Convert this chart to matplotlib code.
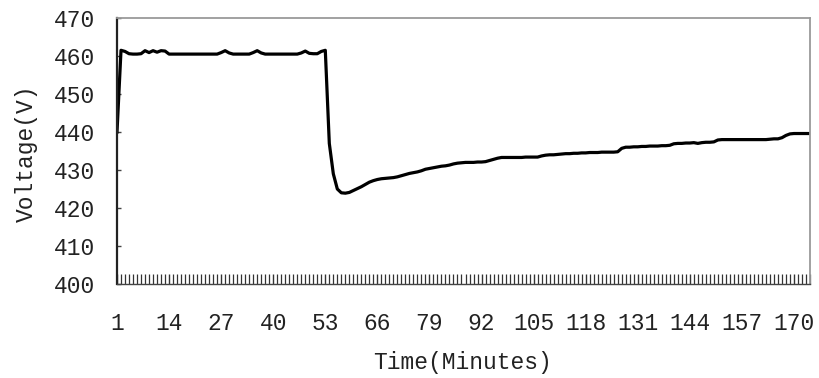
import matplotlib
matplotlib.use("Agg")
import matplotlib.pyplot as plt
from matplotlib.ticker import FixedLocator, MultipleLocator

# Sampled bus voltage, one reading per minute
minutes = list(range(1, 175))
voltage = [
    440.0, 461.5, 461.2, 460.6, 460.5, 460.5, 460.6, 461.4, 460.9, 461.4,
    461.0, 461.4, 461.3, 460.5, 460.5, 460.5, 460.5, 460.5, 460.5, 460.5,
    460.5, 460.5, 460.5, 460.5, 460.5, 460.5, 460.9, 461.4, 460.8, 460.5,
    460.5, 460.5, 460.5, 460.5, 460.9, 461.4, 460.8, 460.5, 460.5, 460.5,
    460.5, 460.5, 460.5, 460.5, 460.5, 460.5, 460.8, 461.3, 460.7, 460.6,
    460.6, 461.2, 461.5, 437.0, 429.0, 425.0, 424.0, 423.9, 424.1, 424.6,
    425.1, 425.6, 426.2, 426.8, 427.2, 427.5, 427.7, 427.8, 427.9, 428.0,
    428.2, 428.5, 428.8, 429.1, 429.3, 429.5, 429.8, 430.2, 430.4, 430.6,
    430.8, 431.0, 431.1, 431.3, 431.6, 431.8, 431.9, 432.0, 432.0, 432.0,
    432.1, 432.1, 432.2, 432.5, 432.8, 433.1, 433.3, 433.3, 433.3, 433.3,
    433.3, 433.3, 433.4, 433.4, 433.4, 433.4, 433.7, 433.9, 434.0, 434.0,
    434.1, 434.2, 434.3, 434.3, 434.4, 434.4, 434.5, 434.5, 434.6, 434.6,
    434.6, 434.7, 434.7, 434.7, 434.7, 434.8, 435.7, 436.0, 436.0, 436.1,
    436.1, 436.2, 436.2, 436.3, 436.3, 436.3, 436.4, 436.4, 436.5, 436.9,
    437.0, 437.0, 437.1, 437.1, 437.2, 437.0, 437.2, 437.3, 437.3, 437.4,
    437.9, 438.0, 438.0, 438.0, 438.0, 438.0, 438.0, 438.0, 438.0, 438.0,
    438.0, 438.0, 438.0, 438.1, 438.2, 438.2, 438.5, 439.1, 439.5, 439.6,
    439.6, 439.6, 439.6, 439.6,
]
x_tick_labels = [1, 14, 27, 40, 53, 66, 79, 92, 105, 118, 131, 144, 157, 170]
y_ticks = [400, 410, 420, 430, 440, 450, 460, 470]

FONT = "Liberation Mono"
TEXT = "#222222"
FS = 16.5

fig = plt.figure(figsize=(8.19, 3.78), dpi=100)
ax = fig.add_axes([117 / 819, 1 - 284 / 378, 693 / 819, 266 / 378])

ax.plot(minutes, voltage, color="black", linewidth=2.3, solid_joinstyle="round")

ax.set_xlim(1, 174)
ax.set_ylim(400, 470)

ax.xaxis.set_major_locator(FixedLocator(x_tick_labels))
ax.set_xticklabels([str(v) for v in x_tick_labels], fontfamily=FONT,
                   fontsize=FS, color=TEXT)
ax.xaxis.set_minor_locator(MultipleLocator(1))
ax.tick_params(axis="x", which="major", direction="in", length=7,
               width=1.0, color="#333333", pad=20)
ax.tick_params(axis="x", which="minor", direction="in", length=7,
               width=0.9, color="#333333")

ax.set_yticks(y_ticks)
ax.set_yticklabels([str(v) for v in y_ticks], fontfamily=FONT,
                   fontsize=FS, color=TEXT)
ax.tick_params(axis="y", which="major", direction="in", length=3,
               width=1.0, color="#444444", pad=16)

for side in ("top", "right"):
    ax.spines[side].set_color("#9a9a9a")
    ax.spines[side].set_linewidth(1.3)
ax.spines["left"].set_color("#222222")
ax.spines["left"].set_linewidth(1.6)
ax.spines["bottom"].set_color("#444444")
ax.spines["bottom"].set_linewidth(1.0)

fig.text(463 / 819, 1 - 362 / 378, "Time(Minutes)", ha="center", va="center",
         fontfamily=FONT, fontsize=FS, color=TEXT)
fig.text(26 / 819, 1 - 153 / 378, "Voltage(V)", ha="center", va="center",
         rotation=90, fontfamily=FONT, fontsize=FS, color=TEXT)

fig.savefig("out.png", dpi=100)
